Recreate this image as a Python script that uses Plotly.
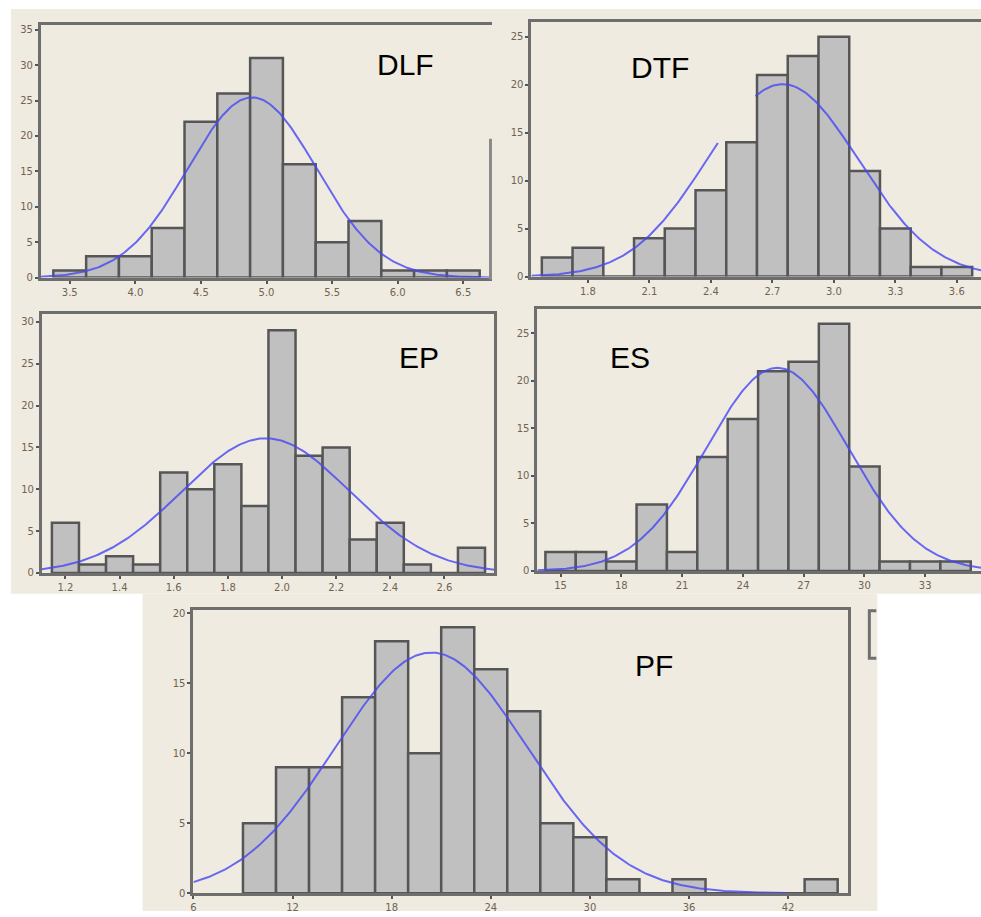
import numpy as np
import plotly.graph_objects as go

# ---------------- data ----------------
dlf_centers = [3.5, 3.75, 4.0, 4.25, 4.5, 4.75, 5.0, 5.25, 5.5, 5.75, 6.0, 6.25, 6.5]
dlf_counts = [1, 3, 3, 7, 22, 26, 31, 16, 5, 8, 1, 1, 1]
dlf_ticks = ["3.5", "4.0", "4.5", "5.0", "5.5", "6.0", "6.5"]
dlf_mean, dlf_sd = 4.89, 0.49

dtf_centers = [1.65, 1.8, 1.95, 2.1, 2.25, 2.4, 2.55, 2.7, 2.85, 3.0, 3.15, 3.3, 3.45, 3.6]
dtf_counts = [2, 3, 0, 4, 5, 9, 14, 21, 23, 25, 11, 5, 1, 1]
dtf_ticks = ["1.8", "2.1", "2.4", "2.7", "3.0", "3.3", "3.6"]
dtf_mean, dtf_sd = 2.75, 0.37

ep_centers = [1.2, 1.3, 1.4, 1.5, 1.6, 1.7, 1.8, 1.9, 2.0, 2.1, 2.2, 2.3, 2.4, 2.5, 2.6, 2.7]
ep_counts = [6, 1, 2, 1, 12, 10, 13, 8, 29, 14, 15, 4, 6, 1, 0, 3]
ep_ticks = ["1.2", "1.4", "1.6", "1.8", "2.0", "2.2", "2.4", "2.6"]
ep_mean, ep_sd = 1.94, 0.31

es_centers = [15, 16.5, 18, 19.5, 21, 22.5, 24, 25.5, 27, 28.5, 30, 31.5, 33, 34.5]
es_counts = [2, 2, 1, 7, 2, 12, 16, 21, 22, 26, 11, 1, 1, 1]
es_ticks = ["15", "18", "21", "24", "27", "30", "33"]
es_mean, es_sd = 25.7, 3.5

pf_centers = [10, 12, 14, 16, 18, 20, 22, 24, 26, 28, 30, 32, 34, 36, 38, 40, 42, 44]
pf_counts = [5, 9, 9, 14, 18, 10, 19, 16, 13, 5, 4, 1, 0, 1, 0, 0, 0, 1]
pf_ticks = ["6", "12", "18", "24", "30", "36", "42"]
pf_mean, pf_sd = 20.4, 5.8

# ---------------- layout helpers ----------------
W, H = 981, 917
BEIGE = "#efebe1"


def fx(p):
    return p / W


def fy(p):
    return 1 - p / H


panels = [
    dict(label="DLF", centers=dlf_centers, counts=dlf_counts, bw=0.25, mean=dlf_mean, sd=dlf_sd,
         ticks=dlf_ticks, xr=[3.28, 6.715], yr=[0, 35.7], ydt=5, px=[38, 490], py=[23, 278],
         lab=(373, 63), crange=[3.28, 6.715], gap=None, mirror_y=False),
    dict(label="DTF", centers=dtf_centers, counts=dtf_counts, bw=0.15, mean=dtf_mean, sd=dtf_sd,
         ticks=dtf_ticks, xr=[1.524, 3.718], yr=[0, 26.55], ydt=5, px=[530, 981], py=[20, 277],
         lab=(628, 66), crange=[1.524, 3.718], gap=(2.44, 2.61), mirror_y=False),
    dict(label="EP", centers=ep_centers, counts=ep_counts, bw=0.1, mean=ep_mean, sd=ep_sd,
         ticks=ep_ticks, xr=[1.113, 2.785], yr=[0, 30.9], ydt=5, px=[39, 493], py=[315, 576],
         lab=(395, 359), crange=[1.113, 2.785], gap=None, mirror_y=True),
    dict(label="ES", centers=es_centers, counts=es_counts, bw=1.5, mean=es_mean, sd=es_sd,
         ticks=es_ticks, xr=[13.853, 35.756], yr=[0, 27.53], ydt=5, px=[536, 981], py=[310, 574],
         lab=(607, 359), crange=[13.853, 35.756], gap=None, mirror_y=False),
    dict(label="PF", centers=pf_centers, counts=pf_counts, bw=2.0, mean=pf_mean, sd=pf_sd,
         ticks=pf_ticks, xr=[6, 45.65], yr=[0, 20.26], ydt=5, px=[191, 848], py=[613, 899],
         lab=(632, 669), crange=[6, 42], gap=None, mirror_y=True),
]

fig = go.Figure()
layout = dict(
    width=W, height=H, margin=dict(l=0, r=0, t=0, b=0),
    paper_bgcolor="white", plot_bgcolor="white",
    showlegend=False, bargap=0, hovermode=False,
    shapes=[], annotations=[],
)

axis_color = "#6e6e6e"
tick_font = dict(family="DejaVu Sans", size=10, color="#6f6352")

for i, p in enumerate(panels, start=1):
    xa = "x" if i == 1 else f"x{i}"
    ya = "y" if i == 1 else f"y{i}"
    xkey = "xaxis" if i == 1 else f"xaxis{i}"
    ykey = "yaxis" if i == 1 else f"yaxis{i}"

    fig.add_trace(go.Bar(
        x=p["centers"], y=p["counts"], width=p["bw"],
        marker=dict(color="#c0c0c0", line=dict(color="#565656", width=2.5)),
        xaxis=xa, yaxis=ya,
    ))

    n = sum(p["counts"])
    peak = n * p["bw"] / (p["sd"] * np.sqrt(2 * np.pi))
    xs = np.linspace(p["crange"][0], p["crange"][1], 300)
    ys = peak * np.exp(-((xs - p["mean"]) ** 2) / (2 * p["sd"] ** 2))
    ys = ys.astype(object)
    if p["gap"] is not None:
        mask = (xs > p["gap"][0]) & (xs < p["gap"][1])
        ys[mask] = None
    fig.add_trace(go.Scatter(
        x=xs, y=list(ys), mode="lines", connectgaps=False,
        line=dict(color="rgba(70,70,245,0.8)", width=2),
        xaxis=xa, yaxis=ya,
    ))

    tickvals = [float(t) for t in p["ticks"]]
    layout[xkey] = dict(
        domain=[fx(p["px"][0]), fx(p["px"][1])], range=p["xr"], anchor=ya,
        tickvals=tickvals, ticktext=p["ticks"], ticks="outside", ticklen=3, tickwidth=2,
        tickcolor="#555555", tickfont=tick_font, showgrid=False, zeroline=False,
        showline=True, linecolor=axis_color, linewidth=3, mirror=True,
    )
    ymax = p["yr"][1]
    yt = list(range(0, int(ymax) + 1, p["ydt"]))
    layout[ykey] = dict(
        domain=[fy(p["py"][1]), fy(p["py"][0])], range=p["yr"], anchor=xa,
        tickvals=yt, ticks="outside", ticklen=3, tickwidth=2, tickcolor="#555555",
        tickfont=tick_font, showgrid=False, zeroline=False,
        showline=True, linecolor=axis_color, linewidth=3, mirror=p["mirror_y"],
    )
    layout["annotations"].append(dict(
        text=p["label"], xref="paper", yref="paper", x=fx(p["lab"][0]), y=fy(p["lab"][1]),
        xanchor="left", yanchor="middle", showarrow=False,
        font=dict(family="Liberation Sans", size=30, color="black"),
    ))

# beige screenshot backgrounds
layout["shapes"].extend([
    dict(type="rect", xref="paper", yref="paper", x0=fx(8), x1=1, y0=fy(597), y1=fy(7),
         fillcolor=BEIGE, line=dict(width=0), layer="below"),
    dict(type="rect", xref="paper", yref="paper", x0=fx(140), x1=fx(877), y0=0, y1=fy(597),
         fillcolor=BEIGE, line=dict(width=0), layer="below"),
    # partial right frame of DLF panel
    dict(type="line", xref="paper", yref="paper", x0=fx(489), x1=fx(489), y0=fy(280), y1=fy(138),
         line=dict(color="#8a8a8a", width=3)),
    # fragment of a neighbouring window frame at right of PF
    dict(type="path", xref="paper", yref="paper",
         path=f"M {fx(876)},{fy(614)} L {fx(869)},{fy(614)} L {fx(869)},{fy(662)} L {fx(876)},{fy(662)}",
         line=dict(color="#707070", width=3)),
])

fig.update_layout(**layout)
fig.write_html(
    "out.html",
    config={"displayModeBar": False, "staticPlot": True},
    post_script="document.body.style.margin='0px';document.body.style.padding='0px';document.body.style.overflow='hidden';",
)
